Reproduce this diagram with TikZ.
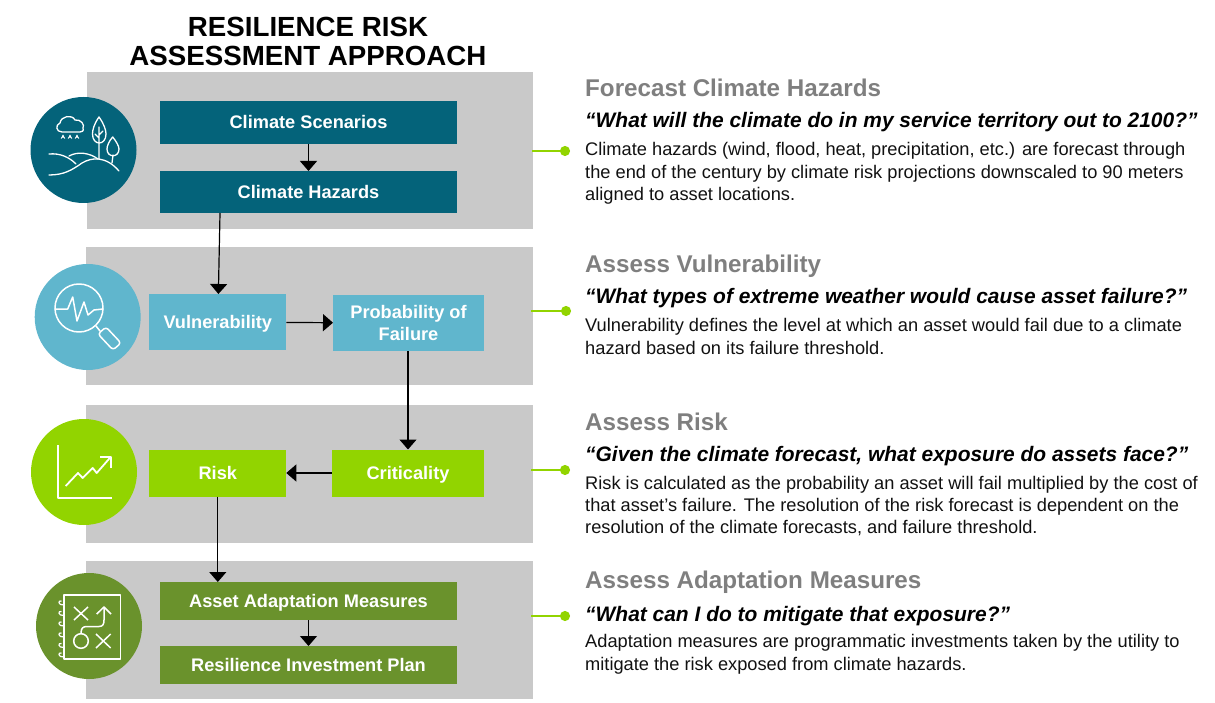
\documentclass[tikz,border=0pt]{standalone}
\usepackage{fontspec}
\setmainfont{Liberation Sans}
\usetikzlibrary{arrows.meta}
\definecolor{band}{HTML}{C9C9C9}
\definecolor{cteal}{HTML}{04637A}
\definecolor{cblue}{HTML}{60B6CD}
\definecolor{clime}{HTML}{92D400}
\definecolor{cgreen}{HTML}{6A922C}
\definecolor{cgray}{HTML}{7F7F7F}
\definecolor{ctext}{HTML}{111111}
\tikzset{
 flowbox/.style={draw=none,text=white,font=\fontsize{18.2}{22}\selectfont\bfseries,align=center,inner sep=0,outer sep=0},
 single/.style={text height=13pt,text depth=0pt},
 flow/.style={draw=black,line width=1.2pt,-{Triangle[length=10pt,width=17pt]}},
 lead/.style={draw=clime,line width=1.8pt,{}-{Circle[length=10pt,width=10pt]}},
 head/.style={anchor=west,text=cgray,font=\fontsize{24.2}{28}\selectfont\bfseries,inner sep=0},
 quest/.style={anchor=west,text=black,font=\fontsize{20.95}{25}\selectfont\bfseries\itshape,inner sep=0},
 bodytext/.style={anchor=north west,text=ctext,align=left,font=\fontsize{18.25}{22.2}\selectfont,inner sep=0},
 ico/.style={draw=white,line width=1.5pt,line cap=round,line join=round},
}
\begin{document}
\begin{tikzpicture}[x=1pt,y=-1pt]
\useasboundingbox (0,0) rectangle (1215,703);
\node[anchor=center,align=center,font=\fontsize{27.7}{29.5}\selectfont\bfseries] (title) at (308,41.5) {RESILIENCE RISK\\ASSESSMENT APPROACH};
% bands
\fill[band] (87,72) rectangle (533,229);
\fill[band] (86,247) rectangle (533,384.5);
\fill[band] (86,404.5) rectangle (533,542.5);
\fill[band] (86,561) rectangle (533,699);
% boxes
\node[flowbox,single,fill=cteal,minimum width=297pt,minimum height=43pt] (a1) at (308.5,122.5) {Climate Scenarios};
\node[flowbox,single,fill=cteal,minimum width=297pt,minimum height=42pt] (a2) at (308.5,192) {Climate Hazards};
\node[flowbox,single,fill=cblue,minimum width=137pt,minimum height=56pt] (b1) at (217.8,322) {Vulnerability};
\node[flowbox,fill=cblue,minimum width=151pt,minimum height=56pt] (b2) at (408.5,323.2) {Probability of\\Failure};
\node[flowbox,single,fill=clime,minimum width=137pt,minimum height=47pt] (c1) at (217.8,473) {Risk};
\node[flowbox,single,fill=clime,minimum width=152pt,minimum height=47pt] (c2) at (408,473) {Criticality};
\node[flowbox,single,fill=cgreen,minimum width=297pt,minimum height=38pt] (d1) at (308.5,601) {Asset Adaptation Measures};
\node[flowbox,single,fill=cgreen,minimum width=297pt,minimum height=38pt] (d2) at (308.5,665) {Resilience Investment Plan};
% connectors
\draw[flow] (a1) -- (a2);
\coordinate (a2out) at (220,213);
\draw[flow] (a2out) -- (b1);
\draw[flow] (b1) -- (b2);
\draw[flow] (b2.south -| c2) -- (c2);
\draw[flow] (c2) -- (c1);
\draw[flow] (c1.south) -- (d1.north -| c1);
\draw[flow] (d1) -- (d2);
% circles
\fill[cteal] (83.5,150) circle (53);
\fill[cblue] (87.7,317) circle (53);
\fill[clime] (84,472) circle (53);
\fill[cgreen] (89,626) circle (53);
% icon 1: cloud, rain, hills, trees
\begin{scope}[ico,line width=1.3pt]
\draw (62,132) .. controls (56,132) and (55,125) .. (60,123) .. controls (61,116) and (72,114) .. (75,120) .. controls (81,119) and (85,125) .. (83,128) .. controls (84,131) and (82,132) .. (80,132) -- cycle;
\foreach \xx in {63,70,77} \draw[fill=white,line width=.6pt] (\xx,135) -- (\xx-1.8,138.5) arc (180:360:1.8) -- cycle;
\draw (49,154) .. controls (60,153) and (69,157) .. (76,164);
\draw (69,156) .. controls (78,151) and (90,153) .. (98,159);
\draw (49,175) .. controls (64,175) and (72,170) .. (82,163) .. controls (92,157) and (106,156) .. (119,171);
\draw (99,117) .. controls (94,124) and (92.5,130) .. (92.5,134) .. controls (92.5,146) and (106,146) .. (106,134) .. controls (106,130) and (104,124) .. (99,117) -- cycle;
\draw (99,127) -- (99,159) (99,135) -- (103,131) (99,138) -- (95,134);
\draw (112.7,137) .. controls (109,141) and (107,146) .. (107,149) .. controls (107,158) and (119,158) .. (119,149) .. controls (119,146) and (116,141) .. (112.7,137) -- cycle;
\draw (113,155) -- (112,163);
\end{scope}
% icon 2: magnifier
\begin{scope}[ico]
\draw (79,308) circle (24);
\draw (55,309) -- (67.7,309) -- (72.7,297) -- (77,321) -- (84,302) -- (88,315) -- (94,310) -- (103,309);
\draw (96,326) -- (100,331);
\draw[rounded corners=3pt] (98,334) -- (106,327) -- (121,343) -- (113,350) -- cycle;
\end{scope}
% icon 3: chart
\begin{scope}[ico,line width=1.8pt,line cap=butt]
\draw (58,445) -- (58,498) -- (111.7,498);
\draw (65.7,486) -- (78,473) -- (82.7,478) -- (92.7,468) -- (96.7,473) -- (110.7,457);
\draw (100,457) -- (110.7,457) -- (110.7,468);
\end{scope}
% icon 4: playbook
\begin{scope}[ico,line cap=butt]
\draw (64,595) rectangle (120.7,659);
\draw (74,607) -- (88,620) (88,607) -- (74,620);
\draw (96,634) -- (110.7,648) (110.7,634) -- (96,648);
\draw (81,641) circle (7.3);
\draw (81,633.5) .. controls (81,628) and (83,626.5) .. (87,626.5) -- (99,626.5) .. controls (103,626.5) and (104,624) .. (104,620) -- (104,608);
\draw (96.7,614) -- (104,607) -- (111,614);
\foreach \yy in {605,615.5,626,637,647.5,657} \draw[line width=1.2pt] (64,\yy) .. controls (58,\yy+.5) and (57.5,\yy-5) .. (61.5,\yy-4);
\end{scope}
% leads
\coordinate (l1a) at (532,151); \coordinate (l1b) at (570,151);
\coordinate (l2a) at (531,311); \coordinate (l2b) at (571,311);
\coordinate (l3a) at (531,470); \coordinate (l3b) at (570,470);
\coordinate (l4a) at (531,616); \coordinate (l4b) at (570,616);
\draw[lead] (l1a) -- (l1b);
\draw[lead] (l2a) -- (l2b);
\draw[lead] (l3a) -- (l3b);
\draw[lead] (l4a) -- (l4b);
% right text
\node[head] (h1) at (585,88) {Forecast Climate Hazards};
\node[quest] (q1) at (585,122.5) {“What will the climate do in my service territory out to 2100?”};
\node[bodytext] (t1) at (585,142.5) {Climate hazards (wind, flood, heat, precipitation, etc.) are forecast through\\the end of the century by climate risk projections downscaled to 90 meters\\aligned to asset locations.};
\node[head] (h2) at (585,266) {Assess Vulnerability};
\node[quest] (q2) at (585,298) {“What types of extreme weather would cause asset failure?”};
\node[bodytext] (t2) at (585,318.5) {Vulnerability defines the level at which an asset would fail due to a climate\\hazard based on its failure threshold.};
\node[head] (h3) at (585,422) {Assess Risk};
\node[quest] (q3) at (585,456) {“Given the climate forecast, what exposure do assets face?”};
\node[bodytext] (t3) at (585,476) {Risk is calculated as the probability an asset will fail multiplied by the cost of\\that asset’s failure. The resolution of the risk forecast is dependent on the\\resolution of the climate forecasts, and failure threshold.};
\node[head] (h4) at (585,582) {Assess Adaptation Measures};
\node[quest] (q4) at (585,616) {“What can I do to mitigate that exposure?”};
\node[bodytext] (t4) at (585,634.5) {Adaptation measures are programmatic investments taken by the utility to\\mitigate the risk exposed from climate hazards.};
\end{tikzpicture}
\end{document}
